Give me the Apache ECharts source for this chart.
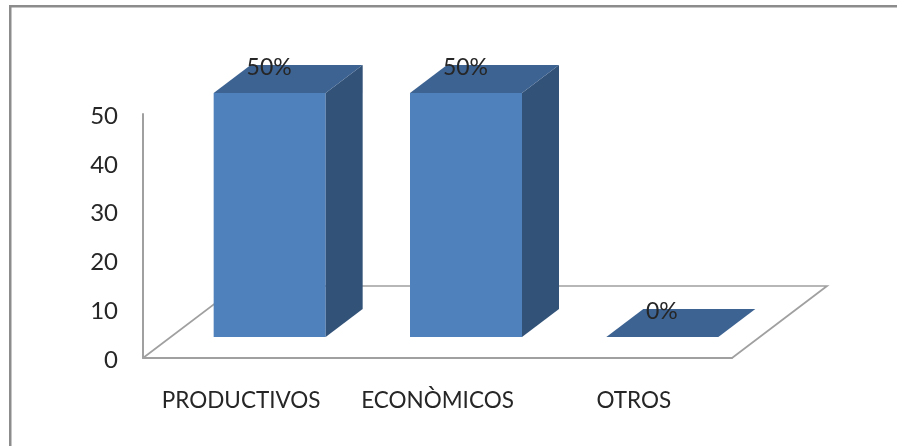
<!DOCTYPE html>
<html><head><meta charset="utf-8">
<script src="https://cdn.jsdelivr.net/npm/echarts@6/dist/echarts.min.js"></script>
<style>html,body{margin:0;padding:0;background:#fff}#c{width:897px;height:446px}</style>
</head><body><div id="c"></div>
<script>
const categories = ['PRODUCTIVOS', 'ECONÒMICOS', 'OTROS'];
const values = [50, 50, 0];
const pointLabels = ['50%', '50%', '0%'];
const floorRow = [0];

const FONT = 'Lato, "Open Sans", sans-serif';
const TEXT = '#262626', AXIS = '#a0a0a0';
const FRONT = '#4f81bd', SIDE = '#325277', TOP = '#3d6392';
const BAR_W = 112, DX = 37, DY = 28, LIFT = 21, SHIFT = 28.5;
const FLOOR_DX = 95, FLOOR_DY = 72;

function poly(points, fill) {
  return { type: 'polygon', shape: { points }, style: { fill }, silent: true };
}
function renderFloor(params, api) {
  const g = params.coordSys;
  const b = g.y + g.height, l = g.x, r = g.x + g.width;
  return {
    type: 'polyline',
    shape: { points: [[l, b], [l + FLOOR_DX, b - FLOOR_DY], [r + FLOOR_DX, b - FLOOR_DY], [r, b]] },
    style: { stroke: AXIS, lineWidth: 1.7, fill: null },
    silent: true
  };
}
function renderBar(params, api) {
  const p = api.coord([api.value(0), api.value(1)]);
  const base = api.coord([api.value(0), 0]);
  const x0 = p[0] + SHIFT - BAR_W / 2, x1 = x0 + BAR_W;
  const yb = base[1] - LIFT, yt = p[1] - LIFT;
  const children = [];
  if (yb - yt > 0) {
    children.push({ type: 'rect', shape: { x: x0, y: yt, width: BAR_W, height: yb - yt }, style: { fill: FRONT }, silent: true });
    children.push(poly([[x1, yt], [x1 + DX, yt - DY], [x1 + DX, yb - DY], [x1, yb]], SIDE));
  }
  children.push(poly([[x0, yt], [x0 + DX, yt - DY], [x1 + DX, yt - DY], [x1, yt]], TOP));
  children.push({
    type: 'text', silent: true,
    style: { text: pointLabels[params.dataIndex], x: p[0] + SHIFT - 0.5, y: yt - 25, align: 'center', verticalAlign: 'middle',
      font: '23px ' + FONT, fill: TEXT }
  });
  return { type: 'group', children };
}

const chart = echarts.init(document.getElementById('c'), null, { renderer: 'canvas' });
chart.setOption({
  animation: false,
  backgroundColor: '#fff',
  graphic: [
    { type: 'rect', shape: { x: 9, y: 5, width: 2.5, height: 441 }, style: { fill: '#8c8c8c' }, silent: true },
    { type: 'rect', shape: { x: 9, y: 5, width: 888, height: 2.5 }, style: { fill: '#8c8c8c' }, silent: true }
  ],
  grid: { left: 143, top: 114, width: 589, height: 244, containLabel: false },
  xAxis: {
    type: 'category', data: categories,
    axisLine: { show: true, lineStyle: { color: AXIS, width: 2 } },
    axisTick: { show: false },
    axisLabel: { color: TEXT, fontFamily: FONT, fontSize: 22.5, margin: 31, interval: 0 },
    splitLine: { show: false }
  },
  yAxis: {
    type: 'value', min: 0, max: 50, interval: 10,
    axisLine: { show: true, lineStyle: { color: AXIS, width: 2 } },
    axisTick: { show: false },
    axisLabel: { margin: 25, formatter: '{n|{value}}',
      rich: { n: { color: TEXT, fontFamily: FONT, fontSize: 24, lineHeight: 24, padding: [4, 0, 0, 0] } } },
    splitLine: { show: false }
  },
  series: [
    { type: 'custom', coordinateSystem: 'cartesian2d', data: floorRow.map(v => [v, 0]), renderItem: renderFloor, z: 1, silent: true },
    { type: 'custom', coordinateSystem: 'cartesian2d', data: values.map((v, i) => [i, v]), encode: { x: 0, y: 1 }, renderItem: renderBar, z: 2, silent: true }
  ]
});
</script></body></html>
